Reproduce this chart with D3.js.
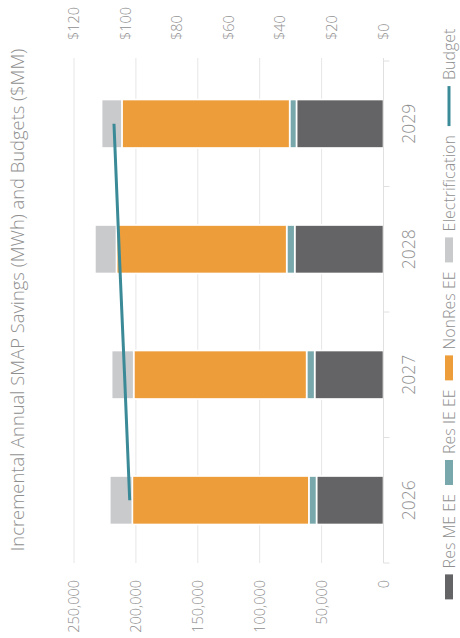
<!DOCTYPE html>
<html>
<head>
<meta charset="utf-8">
<script src="https://cdn.jsdelivr.net/npm/d3@7"></script>
<style>
  body { margin: 0; background: #fff; }
  text { font-family: "Open Sans", sans-serif; font-weight: 300; fill: #8f8f8f; }
</style>
</head>
<body>
<div id="chart"></div>
<script>
// data
var years = ["2026", "2027", "2028", "2029"];
var resME = [54100, 55600, 71700, 70300];
var resIE = [6200, 6500, 6500, 5500];
var nonRes = [142600, 139700, 137500, 135500];
var electrification = [18200, 17800, 17400, 16400];
var budget = [98.4, 100.4, 102.5, 104.5];

var seriesNames = ["Res ME EE", "Res IE EE", "NonRes EE", "Electrification"];
var seriesColors = ["#646466", "#78a8ab", "#ed9e3b", "#c9cacc"];
var budgetName = "Budget";
var budgetColor = "#3b8a97";

var mwhTicks = [0, 50000, 100000, 150000, 200000, 250000];
var dollarTicks = [0, 20, 40, 60, 80, 100, 120];

function setup() {
    // chart is drawn in landscape and then turned a quarter counter-clockwise
    var W = 638, H = 460;
    var margin = {top: 74, right: 61, bottom: 76.5, left: 75},
        width = W - margin.left - margin.right,
        height = H - margin.top - margin.bottom;

    var svg = d3.select("#chart").append("svg")
        .attr("width", 460)
        .attr("height", 638);

    var root = svg.append("g")
        .attr("transform", "translate(0," + W + ") rotate(-90)");

    var g = root.append("g")
        .attr("transform", "translate(" + margin.left + "," + margin.top + ")");

    // scales
    var slot = d3.scaleBand().domain(years).range([0, width]).padding(0);
    var x = d3.scaleBand().domain(years).range([0, width])
        .paddingInner(0.614).paddingOuter(0.307);
    var y = d3.scaleLinear().domain([0, 250000]).range([height, 0]);
    var y2 = d3.scaleLinear().domain([0, 120]).range([height, 0]);

    // gridlines
    g.append("g").selectAll("line")
        .data(mwhTicks.filter(function(d) { return d > 0; }))
        .enter().append("line")
        .attr("x1", 0).attr("x2", width + 3)
        .attr("y1", function(d) { return y(d); })
        .attr("y2", function(d) { return y(d); })
        .attr("stroke", "#e6e6e6");

    // left axis (MWh)
    var yAxis = g.append("g")
        .call(d3.axisLeft(y).tickValues(mwhTicks).tickSize(0).tickPadding(17)
            .tickFormat(d3.format(",")));
    yAxis.select(".domain").remove();
    yAxis.selectAll("text").style("font-size", "14.5px").attr("fill", "#8f8f8f");

    // right axis ($MM)
    var y2Axis = g.append("g")
        .attr("transform", "translate(" + width + ",0)")
        .call(d3.axisRight(y2).tickValues(dollarTicks).tickSize(0).tickPadding(21)
            .tickFormat(function(d) { return "$" + d; }));
    y2Axis.select(".domain").remove();
    y2Axis.selectAll("text").style("font-size", "14.5px").attr("fill", "#8f8f8f");

    // stacked bars
    var rows = years.map(function(yr, i) {
        return {year: yr, "Res ME EE": resME[i], "Res IE EE": resIE[i],
                "NonRes EE": nonRes[i], "Electrification": electrification[i]};
    });
    var stack = d3.stack().keys(seriesNames)(rows);

    g.append("g").selectAll("g")
        .data(stack)
        .enter().append("g")
        .attr("fill", function(d, i) { return seriesColors[i]; })
        .selectAll("rect")
        .data(function(d) { return d; })
        .enter().append("rect")
        .attr("x", function(d) { return x(d.data.year); })
        .attr("width", x.bandwidth())
        .attr("y", function(d) { return y(d[1]); })
        .attr("height", function(d) { return y(d[0]) - y(d[1]); })
        .attr("stroke", "#fff")
        .attr("stroke-width", 1.6);

    // category axis
    var xa = g.append("g").attr("transform", "translate(0," + height + ")");
    xa.append("line").attr("x1", 0).attr("x2", width + 3)
        .attr("stroke", "#e0e0e0");
    xa.selectAll(".tk")
        .data(years.concat(["end"]))
        .enter().append("line")
        .attr("class", "tk")
        .attr("x1", function(d, i) { return i * slot.step(); })
        .attr("x2", function(d, i) { return i * slot.step(); })
        .attr("y1", 0).attr("y2", 6)
        .attr("stroke", "#e0e0e0");
    xa.selectAll(".yl")
        .data(years)
        .enter().append("text")
        .attr("class", "yl")
        .attr("x", function(d) { return slot(d) + slot.bandwidth() / 2; })
        .attr("y", 31)
        .attr("text-anchor", "middle")
        .style("font-size", "17.5px")
        .text(function(d) { return d; });

    // budget line
    var line = d3.line()
        .x(function(d, i) { return x(years[i]) + x.bandwidth() / 2; })
        .y(function(d) { return y2(d); });
    g.append("path")
        .datum(budget)
        .attr("d", line)
        .attr("fill", "none")
        .attr("stroke", budgetColor)
        .attr("stroke-width", 3);

    // title, sized so it spans about 503px like the original
    var title = root.append("text")
        .attr("x", 338)
        .attr("y", 24)
        .attr("text-anchor", "middle")
        .style("font-size", "17.5px")
        .attr("fill", "#969696")
        .text("Incremental Annual SMAP Savings (MWh) and Budgets ($MM)");
    var tl = title.node().getComputedTextLength();
    if (tl > 0) title.style("font-size", (17.5 * 503 / tl).toFixed(2) + "px");

    // legend
    var legend = root.append("g").attr("transform", "translate(0,449)");
    var items = seriesNames.map(function(n, i) { return {name: n, color: seriesColors[i], kind: "box"}; })
        .concat([{name: budgetName, color: budgetColor, kind: "line"}]);
    var cx = 0;
    items.forEach(function(it) {
        var it_g = legend.append("g").attr("transform", "translate(" + cx + ",0)");
        var sw = it.kind === "box" ? 25 : 40;
        if (it.kind === "box") {
            it_g.append("rect").attr("x", 0).attr("y", -4).attr("width", sw).attr("height", 8)
                .attr("fill", it.color);
        } else {
            it_g.append("line").attr("x1", 0).attr("x2", sw).attr("y1", 0).attr("y2", 0)
                .attr("stroke", it.color).attr("stroke-width", 3);
        }
        var t = it_g.append("text").attr("x", sw + 6).attr("y", 5.5)
            .style("font-size", "16px").text(it.name);
        cx += sw + 6 + t.node().getComputedTextLength() + 9;
    });
    var total = cx - 9;
    legend.attr("transform", "translate(" + (324 - total / 2) + ",449)");
}

setup();
</script>
</body>
</html>
